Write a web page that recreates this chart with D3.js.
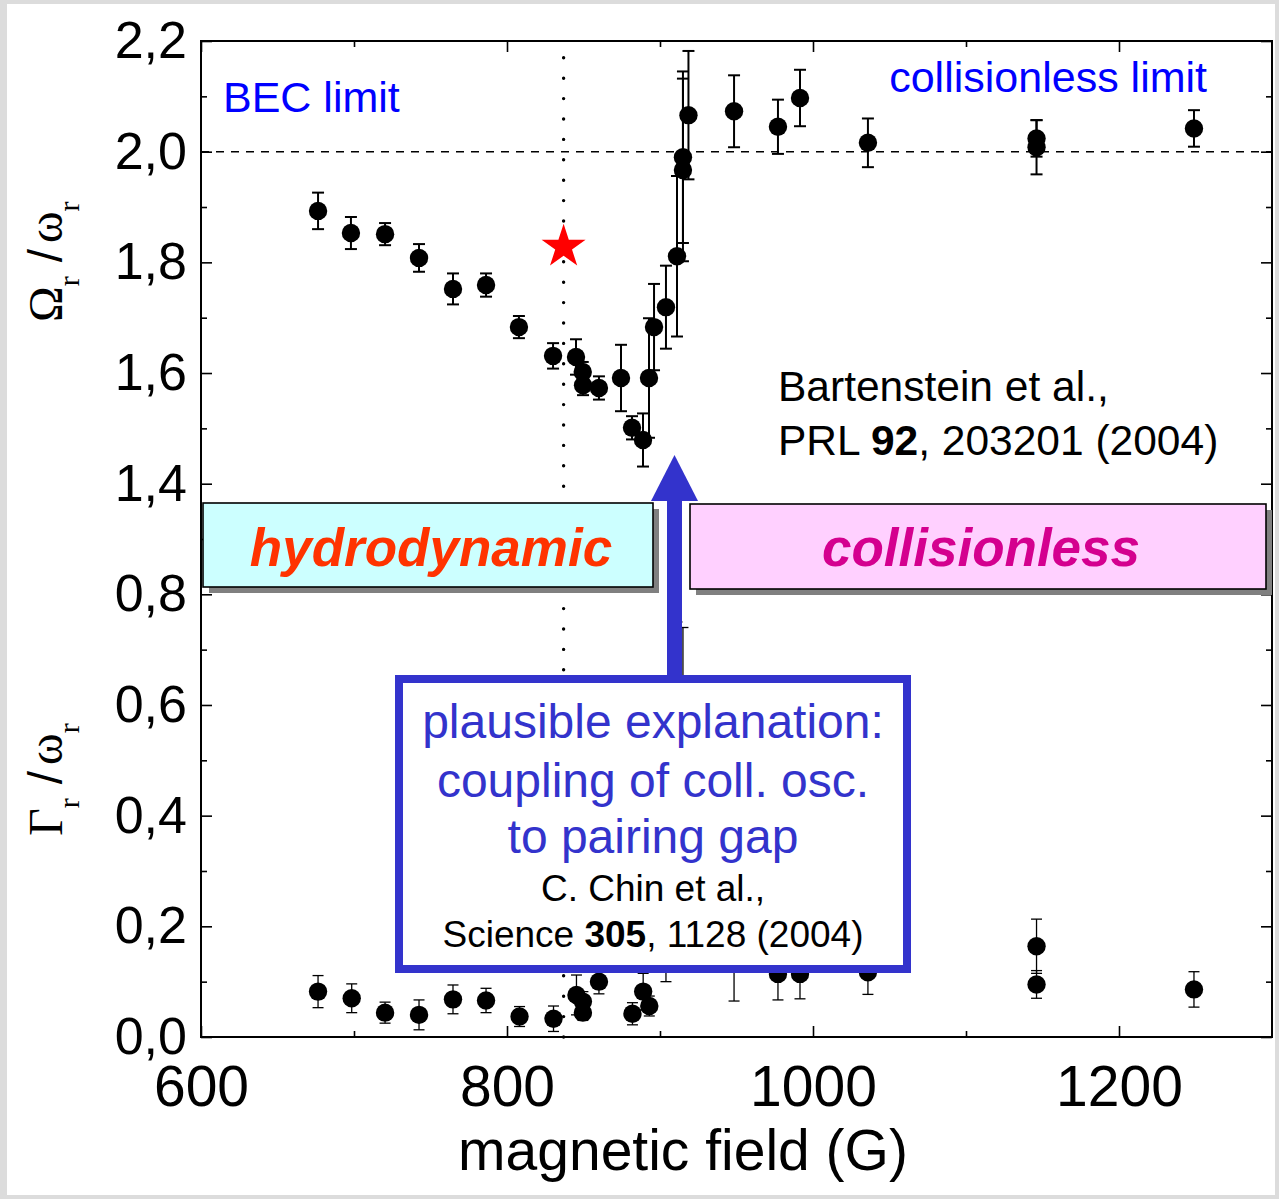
<!DOCTYPE html>
<html>
<head>
<meta charset="utf-8">
<script src="https://cdn.jsdelivr.net/npm/d3@7"></script>
<style>
  body { margin: 0; background: #dcdcdc; }
  svg { display: block; }
</style>
</head>
<body>
<svg id="chart" width="1279" height="1199"></svg>
<script>
// Radial compression mode of a strongly interacting Fermi gas across the Feshbach resonance:
// upper panel = frequency Ω_r/ω_r, lower panel = damping Γ_r/ω_r, both vs magnetic field.

// ---- frequency data (upper panel) ----
const fieldFreq = [676.5, 698, 720.3, 742.5, 764.7, 786.3, 807.8, 830.1, 845.1, 849.5, 849.7, 860.1,
                   874.5, 881.7, 888.9, 892.8, 896.1, 903.9, 911.1, 915, 915, 918.6, 948.4, 977.1,
                   991.5, 1035.9, 1146.1, 1146.1, 1249];
const freqValue = [1.893, 1.853, 1.851, 1.808, 1.752, 1.759, 1.683, 1.631, 1.629, 1.602, 1.578, 1.573,
                   1.591, 1.501, 1.479, 1.591, 1.683, 1.719, 1.811, 1.967, 1.990, 2.066, 2.073, 2.045,
                   2.097, 2.016, 2.024, 2.008, 2.042];
const freqError = [0.033, 0.029, 0.020, 0.025, 0.028, 0.021, 0.020, 0.023, 0.032, 0.018, 0.018, 0.021,
                   0.060, 0.021, 0.048, 0.108, 0.078, 0.075, 0.145, 0.165, 0.155, 0.116, 0.065, 0.049,
                   0.051, 0.044, 0.033, 0.049, 0.033];

// ---- damping data (lower panel) ----
const fieldDamp = [676.5, 698.5, 720.3, 742.5, 764.7, 786.3, 808.2, 830.4, 845.4, 849.6, 849.6, 860.1,
                   874.5, 882, 889, 893, 896.1, 903.9, 911.1, 915, 918.6, 948.4, 977.1, 991.5,
                   1035.9, 1146.1, 1146.1, 1249];
const dampValue = [0.082, 0.070, 0.044, 0.040, 0.068, 0.066, 0.037, 0.033, 0.076, 0.064, 0.044, 0.100,
                   0.25, 0.042, 0.082, 0.056, 0.30, 0.22, 0.55, 0.50, 0.45, 0.16, 0.114, 0.114,
                   0.117, 0.164, 0.095, 0.086];
const dampError = [0.029, 0.026, 0.019, 0.027, 0.026, 0.022, 0.018, 0.023, 0.036, 0.018, 0.014, 0.022,
                   0.06, 0.020, 0.033, 0.018, 0.10, 0.12, 0.20, 0.24, 0.20, 0.095, 0.047, 0.045,
                   0.040, 0.049, 0.025, 0.032];

// ---- reference marks ----
const resonanceField = 837;          // dotted vertical line
const starField = 837, starValue = 1.828;
const collisionlessLimit = 2.0;      // dashed horizontal line

// ---- axes ----
const xDomain = [600, 1300];
const xTickValues = [600, 800, 1000, 1200];
const xMinorTicks = [700, 900, 1100];
// broken y axis: 0..0.8 and 1.4..2.2 share one column with equal step spacing
const yBreakDomain = [0, 0.8, 1.4, 2.2];
const yTickValues = [0, 0.2, 0.4, 0.6, 0.8, 1.4, 1.6, 1.8, 2.0, 2.2];
const yTickLabels = ["0,0", "0,2", "0,4", "0,6", "0,8", "1,4", "1,6", "1,8", "2,0", "2,2"];
const yMinorTicks = [0.1, 0.3, 0.5, 0.7, 1.1, 1.5, 1.7, 1.9, 2.1];

const SANS = "'Liberation Sans', Arial, Helvetica, sans-serif";
const SERIF = "'Liberation Serif', 'Times New Roman', serif";
const BLUE_BOX = "#3333cc";

const svg = d3.select("#chart");
svg.append("rect").attr("width", 1279).attr("height", 1199).attr("fill", "#dcdcdc");
svg.append("rect").attr("x", 7).attr("y", 4).attr("width", 1268).attr("height", 1191).attr("fill", "#ffffff");

const x = d3.scaleLinear().domain(xDomain).range([201, 1272]);
const y = d3.scaleLinear().domain(yBreakDomain).range([1037, 594.3, 483.7, 41]);

const plotL = x(xDomain[0]), plotR = x(xDomain[1]), plotT = y(2.2), plotB = y(0);

function styleAxis(g, size) {
  g.select(".domain").remove();
  g.attr("font-family", SANS).attr("font-size", size || 10);
  g.selectAll(".tick line").attr("stroke", "#000").attr("stroke-width", 1.6);
  g.selectAll(".tick text").attr("fill", "#000");
}

// bottom axis
svg.append("g").attr("transform", `translate(0,${plotB})`)
  .call(d3.axisBottom(x).tickValues(xTickValues).tickSizeInner(-11).tickSizeOuter(0)
        .tickPadding(29).tickFormat(d3.format("d")))
  .call(g => styleAxis(g, 57));
svg.append("g").attr("transform", `translate(0,${plotB})`)
  .call(d3.axisBottom(x).tickValues(xMinorTicks).tickSizeInner(-6).tickSizeOuter(0).tickFormat(""))
  .call(g => styleAxis(g));
// top axis
svg.append("g").attr("transform", `translate(0,${plotT})`)
  .call(d3.axisTop(x).tickValues(xTickValues).tickSizeInner(-11).tickSizeOuter(0).tickFormat(""))
  .call(g => styleAxis(g));
svg.append("g").attr("transform", `translate(0,${plotT})`)
  .call(d3.axisTop(x).tickValues(xMinorTicks).tickSizeInner(-6).tickSizeOuter(0).tickFormat(""))
  .call(g => styleAxis(g));
// left axis
svg.append("g").attr("transform", `translate(${plotL},0)`)
  .call(d3.axisLeft(y).tickValues(yTickValues).tickSizeInner(-11).tickSizeOuter(0)
        .tickPadding(14).tickFormat((d, i) => yTickLabels[i]))
  .call(g => styleAxis(g, 52));
svg.append("g").attr("transform", `translate(${plotL},0)`)
  .call(d3.axisLeft(y).tickValues(yMinorTicks).tickSizeInner(-6).tickSizeOuter(0).tickFormat(""))
  .call(g => styleAxis(g));
// right axis
svg.append("g").attr("transform", `translate(${plotR},0)`)
  .call(d3.axisRight(y).tickValues(yTickValues).tickSizeInner(-11).tickSizeOuter(0).tickFormat(""))
  .call(g => styleAxis(g));
svg.append("g").attr("transform", `translate(${plotR},0)`)
  .call(d3.axisRight(y).tickValues(yMinorTicks).tickSizeInner(-6).tickSizeOuter(0).tickFormat(""))
  .call(g => styleAxis(g));

// frame
svg.append("rect").attr("x", plotL).attr("y", plotT)
  .attr("width", plotR - plotL).attr("height", plotB - plotT)
  .attr("fill", "none").attr("stroke", "#000").attr("stroke-width", 2);

// collisionless limit (dashed) and resonance position (dotted)
svg.append("line").attr("x1", plotL).attr("x2", plotR)
  .attr("y1", y(collisionlessLimit)).attr("y2", y(collisionlessLimit))
  .attr("stroke", "#000").attr("stroke-width", 1.6).attr("stroke-dasharray", "8,7");
svg.append("line").attr("x1", x(resonanceField)).attr("x2", x(resonanceField))
  .attr("y1", plotB).attr("y2", plotT + 6)
  .attr("stroke", "#000").attr("stroke-width", 3.4).attr("stroke-linecap", "round")
  .attr("stroke-dasharray", "0,20.4");

// error bars + points
function drawSeries(fields, values, errors, lineW, capHalf, radius) {
  const data = fields.map((f, i) => ({ f, v: values[i], e: errors[i] }));
  const g = svg.append("g");
  const bars = g.selectAll("g.bar").data(data).join("g").attr("class", "bar")
    .attr("stroke", "#000").attr("stroke-width", lineW);
  bars.append("line")
    .attr("x1", d => x(d.f)).attr("x2", d => x(d.f))
    .attr("y1", d => y(d.v - d.e)).attr("y2", d => y(d.v + d.e));
  bars.append("line")
    .attr("x1", d => x(d.f) - capHalf).attr("x2", d => x(d.f) + capHalf)
    .attr("y1", d => y(d.v + d.e)).attr("y2", d => y(d.v + d.e));
  bars.append("line")
    .attr("x1", d => x(d.f) - capHalf).attr("x2", d => x(d.f) + capHalf)
    .attr("y1", d => y(d.v - d.e)).attr("y2", d => y(d.v - d.e));
  g.selectAll("circle").data(data).join("circle")
    .attr("cx", d => x(d.f)).attr("cy", d => y(d.v)).attr("r", radius).attr("fill", "#000");
}
drawSeries(fieldFreq, freqValue, freqError, 2, 6, 9.2);
drawSeries(fieldDamp, dampValue, dampError, 1.3, 5.5, 9.2);

// star
svg.append("path")
  .attr("d", d3.symbol(d3.symbolStar, 600)())
  .attr("transform", `translate(${x(starField)},${y(starValue)})`)
  .attr("fill", "#ff0000");

// in-plot labels
svg.append("text").attr("x", 223).attr("y", 112).attr("font-family", SANS).attr("font-size", 43)
  .attr("fill", "#0000ff").text("BEC limit");
svg.append("text").attr("x", 1207).attr("y", 92).attr("text-anchor", "end")
  .attr("font-family", SANS).attr("font-size", 43).attr("fill", "#0000ff").text("collisionless limit");

const ref1 = svg.append("text").attr("font-family", SANS).attr("font-size", 42.5).attr("fill", "#000");
ref1.append("tspan").attr("x", 778).attr("y", 401).text("Bartenstein et al.,");
const ref1b = ref1.append("tspan").attr("x", 778).attr("y", 455);
ref1b.append("tspan").text("PRL ");
ref1b.append("tspan").attr("font-weight", "bold").text("92");
ref1b.append("tspan").text(", 203201 (2004)");

// axis titles
svg.append("text").attr("x", 683).attr("y", 1170).attr("text-anchor", "middle")
  .attr("font-family", SANS).attr("font-size", 57).attr("fill", "#000").text("magnetic field (G)");

function yTitle(symbol, startY) {
  const t = svg.append("text").attr("transform", `translate(62,${startY}) rotate(-90)`)
    .attr("font-family", SERIF).attr("font-size", 48).attr("fill", "#000");
  t.append("tspan").text(symbol);
  t.append("tspan").attr("font-size", 30).attr("dy", 17).text("r");
  t.append("tspan").attr("font-family", SANS).attr("dx", 14).attr("dy", -17).text("/");
  t.append("tspan").attr("dx", 6).text("ω");
  t.append("tspan").attr("font-size", 30).attr("dy", 17).text("r");
}
yTitle("Ω", 322);
yTitle("Γ", 836);

// regime boxes with drop shadows
function regimeBox(x0, y0, x1, y1, fill, label, color) {
  svg.append("rect").attr("x", x0 + 6).attr("y", y0 + 6).attr("width", x1 - x0).attr("height", y1 - y0)
    .attr("fill", "#808080");
  svg.append("rect").attr("x", x0).attr("y", y0).attr("width", x1 - x0).attr("height", y1 - y0)
    .attr("fill", fill).attr("stroke", "#000").attr("stroke-width", 1.6);
  svg.append("text").attr("x", (x0 + x1) / 2 + 3).attr("y", 566).attr("text-anchor", "middle")
    .attr("font-family", SANS).attr("font-size", 53).attr("font-weight", "bold")
    .attr("font-style", "italic").attr("fill", color).text(label);
}
regimeBox(203, 503, 653, 587, "#ccffff", "hydrodynamic", "#ff3300");
regimeBox(690, 504, 1266, 589, "#ffd0ff", "collisionless", "#d4008f");

// arrow pointing at the frequency dip
svg.append("rect").attr("x", 667).attr("y", 498).attr("width", 15).attr("height", 182).attr("fill", BLUE_BOX);
svg.append("path").attr("d", "M651,501 L698,501 L674.5,455 Z").attr("fill", BLUE_BOX);

// explanation box
svg.append("rect").attr("x", 399).attr("y", 679).attr("width", 508).attr("height", 290)
  .attr("fill", "#fff").attr("stroke", BLUE_BOX).attr("stroke-width", 8);
const note = svg.append("text").attr("text-anchor", "middle").attr("font-family", SANS);
note.append("tspan").attr("x", 653).attr("y", 738).attr("font-size", 48).attr("fill", BLUE_BOX).text("plausible explanation:");
note.append("tspan").attr("x", 653).attr("y", 797).attr("font-size", 48).attr("fill", BLUE_BOX).text("coupling of coll. osc.");
note.append("tspan").attr("x", 653).attr("y", 853).attr("font-size", 48).attr("fill", BLUE_BOX).text("to pairing gap");
note.append("tspan").attr("x", 653).attr("y", 901).attr("font-size", 37).attr("fill", "#000").text("C. Chin et al.,");
const cite = note.append("tspan").attr("x", 653).attr("y", 947).attr("font-size", 37).attr("fill", "#000");
cite.append("tspan").text("Science ");
cite.append("tspan").attr("font-weight", "bold").text("305");
cite.append("tspan").text(", 1128 (2004)");
</script>
</body>
</html>
